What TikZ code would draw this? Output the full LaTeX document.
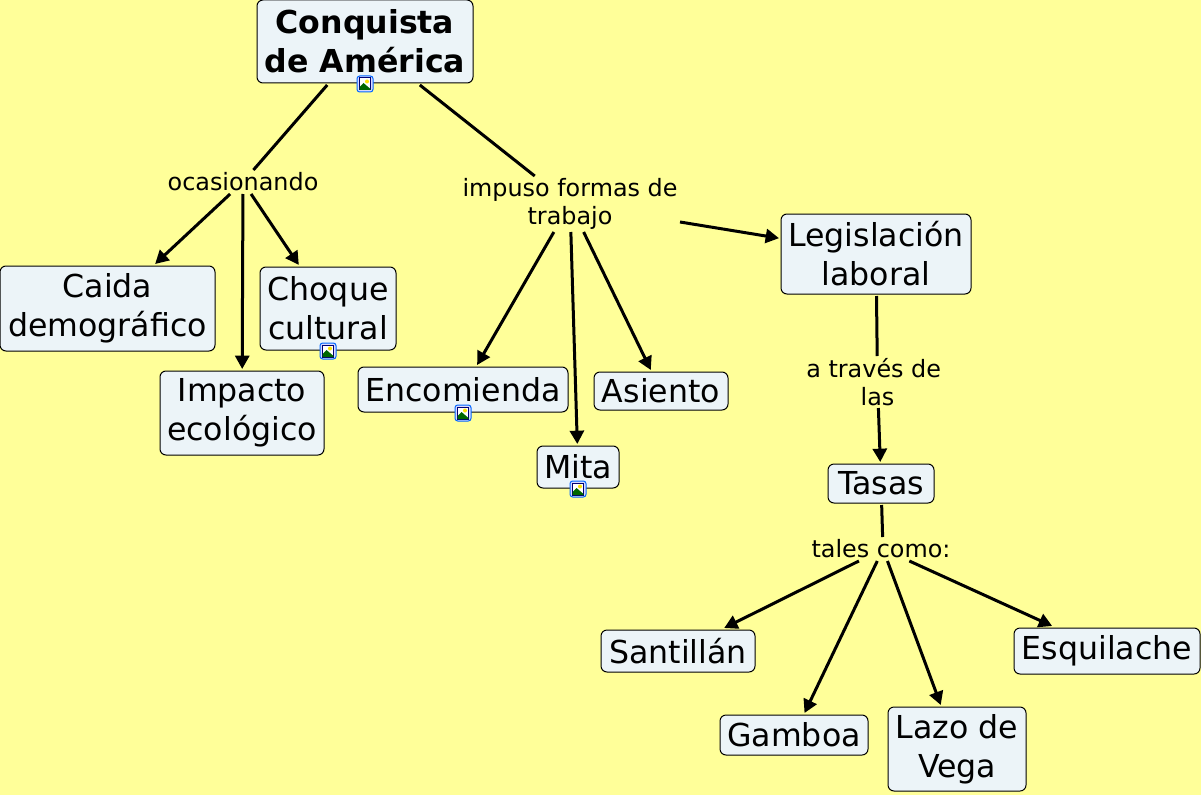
\documentclass[tikz,border=0pt]{standalone}
\usepackage{fontspec}
\setmainfont{DejaVu Sans}
\usetikzlibrary{arrows.meta}
\definecolor{paper}{HTML}{FFFF99}
\definecolor{conceptfill}{HTML}{ECF4F8}
\tikzset{
  dims/.style 2 args={minimum width=#1*0.75pt, minimum height=#2*0.75pt},
  concept/.style={draw=black, fill=conceptfill, line width=0.75pt, rounded corners=4.5pt, align=center, inner sep=0pt, outer sep=1.5pt, font=\fontsize{23.7}{29.25}\selectfont},
  title/.style={concept, font=\fontsize{23.7}{29.25}\selectfont\bfseries},
  linking/.style={align=center, inner sep=0pt, outer sep=0pt, font=\fontsize{17.9}{21.4}\selectfont},
  link/.style={line width=2.25pt},
  arrow/.style={link, -{Triangle[length=10pt, width=10.5pt]}},
  imgicon/.pic={
    \draw[draw=blue!60!cyan, fill=blue!15, line width=0.75pt, rounded corners=2pt] (-8,-8) rectangle (8,8);
    \draw[draw=blue!45!black, fill=white, line width=0.75pt] (-5.5,-6) rectangle (5.5,6);
    \fill[yellow!85!orange] (2,-2.5) circle (2);
    \fill[green!40!black] (-5.5,6) -- (-5.5,3) -- (-1.5,-1) -- (5.5,5) -- (5.5,6) -- cycle;
  }
}
\begin{document}
\begin{tikzpicture}[x=0.75pt, y=-0.75pt]
\useasboundingbox (0,0) rectangle (1201,795);
\fill[paper] (0,0) rectangle (1201,795);
% concepts
\node[title, dims={216}{83}] (conquista) at (365,41.5) {Conquista\\de América};
\node[concept, dims={215}{85}] (caida) at (107.5,308.5) {Caida\\demográfico};
\node[concept, dims={136}{83}] (choque) at (328,308.5) {Choque\\cultural};
\node[concept, dims={164}{84}] (impacto) at (242,413) {Impacto\\ecológico};
\node[concept, dims={210}{45}] (encomienda) at (463,389.5) {Encomienda};
\node[concept, dims={134}{38}] (asiento) at (661,391) {Asiento};
\node[concept, dims={82}{42}] (mita) at (578,467) {Mita};
\node[concept, dims={190}{80}] (legislacion) at (876,254) {Legislación\\laboral};
\node[concept, dims={106}{39}] (tasas) at (881,483.5) {Tasas};
\node[concept, dims={154}{42}] (santillan) at (678,651) {Santillán};
\node[concept, dims={148}{40}] (gamboa) at (794,735) {Gamboa};
\node[concept, dims={138}{84}] (lazo) at (957,749) {Lazo de\\Vega};
\node[concept, dims={186}{46}] (esquilache) at (1107,651) {Esquilache};
% linking phrases
\node[linking, dims={150}{24}] (ocasionando) at (243,182) {ocasionando};
\node[linking, dims={220}{56}] (impuso) at (570,204) {impuso formas de\\trabajo};
\node[linking, dims={136}{52}] (traves) at (877.5,382) {a través de\ \mbox{}\\las};
\node[linking, dims={139}{24}] (tales) at (883,549) {tales como:\hspace{3pt}};
% connectors
\draw[link] (conquista) -- (ocasionando);
\draw[link] (conquista) -- (impuso);
\foreach \n in {caida,impacto,choque}
  \draw[arrow] (ocasionando) -- (\n);
\foreach \n in {encomienda,mita,asiento,legislacion}
  \draw[arrow] (impuso) -- (\n);
\draw[link] (legislacion) -- (traves);
\draw[arrow] (traves) -- (tasas);
\draw[link] (tasas) -- (tales);
\foreach \n in {santillan,gamboa,lazo,esquilache}
  \draw[arrow] (tales) -- (\n);
% image icons
\foreach \n in {conquista,choque,encomienda,mita}
  \pic[yshift=0.75pt] at (\n.south) {imgicon};
\end{tikzpicture}
\end{document}
